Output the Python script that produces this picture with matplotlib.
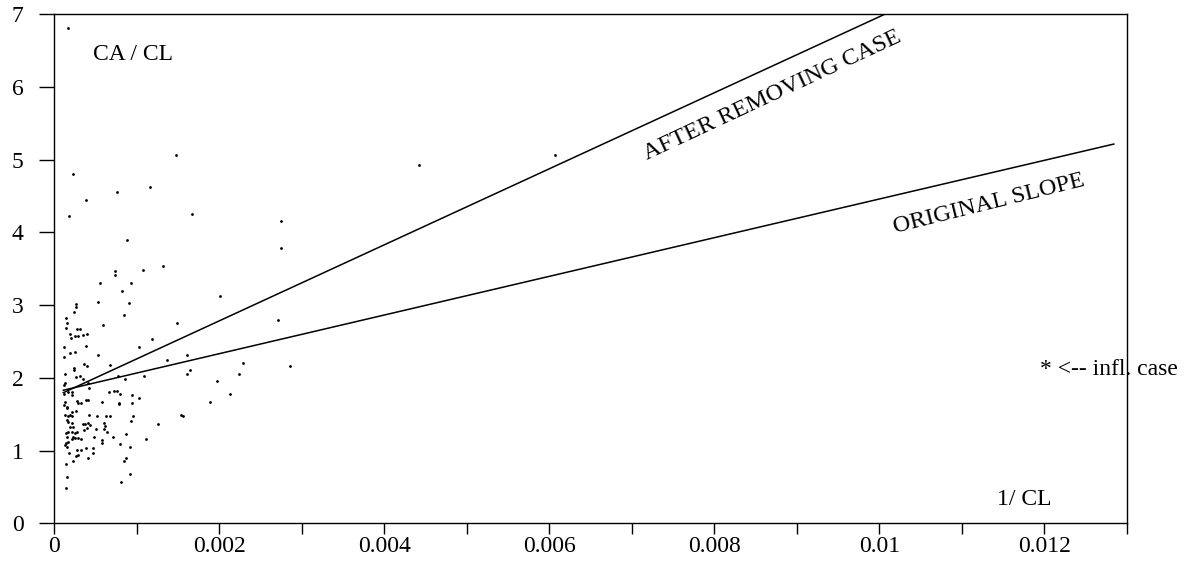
import matplotlib
matplotlib.use("Agg")
import matplotlib.pyplot as plt
import numpy as np

plt.rcParams['font.family'] = ['Liberation Serif', 'DejaVu Serif']

# scatter points: 1/CL vs CA/CL
inv_cl = [
    0.000173, 0.000236, 0.000766, 0.001164, 0.001481, 0.000385, 0.000182, 0.001676,
    0.002752, 0.002755, 0.000885, 0.000739, 0.000739, 0.001079, 0.001321, 0.004420,
    0.006073, 0.000561, 0.000933, 0.000821, 0.000913, 0.000533, 0.002012, 0.000852,
    0.000594, 0.001487, 0.002719, 0.001192, 0.001026, 0.000530, 0.000679, 0.001366,
    0.001612, 0.001648, 0.001616, 0.002291, 0.002239, 0.002861, 0.001979, 0.001091,
    0.000779, 0.000861, 0.000125, 0.000125, 0.000142, 0.000154, 0.000145, 0.000270,
    0.000263, 0.000242, 0.000194, 0.000202, 0.000282, 0.000315, 0.000255, 0.000295,
    0.000348, 0.000396, 0.000392, 0.000194, 0.000255, 0.000364, 0.000404, 0.000133,
    0.000242, 0.000242, 0.000267, 0.000319, 0.000348, 0.000416, 0.000428, 0.000133,
    0.000125, 0.000121, 0.000173, 0.000215, 0.000218, 0.000670, 0.000731, 0.000760,
    0.000800, 0.000949, 0.001030, 0.002130, 0.001891, 0.001536, 0.001567, 0.001264,
    0.001112, 0.000812, 0.000925, 0.000845, 0.000876, 0.000921, 0.000800, 0.000869,
    0.000961, 0.000930, 0.000945, 0.000784, 0.000788, 0.000582, 0.000719, 0.000646,
    0.000627, 0.000679, 0.000606, 0.000622, 0.000606, 0.000518, 0.000578, 0.000578,
    0.000481, 0.000509, 0.000476, 0.000469, 0.000412, 0.000384, 0.000424, 0.000408,
    0.000436, 0.000396, 0.000348, 0.000388, 0.000412, 0.000327, 0.000275, 0.000291,
    0.000263, 0.000222, 0.000215, 0.000161, 0.000154, 0.000125, 0.000133, 0.000194,
    0.000173, 0.000133, 0.000154, 0.000173, 0.000194, 0.000234, 0.000215, 0.000145,
    0.000173, 0.000154, 0.000215, 0.000255, 0.000275, 0.000234, 0.000145, 0.000133,
    0.000154, 0.000173, 0.000215, 0.000255, 0.000295, 0.000275, 0.000324, 0.000324,
    0.000185, 0.000234, 0.000267, 0.000295, 0.000142, 0.000154, 0.000145, 0.000379,
    0.000364,
]
ca_cl = [
    6.81, 4.81, 4.56, 4.62, 5.07, 4.45, 4.22, 4.26,
    4.16, 3.78, 3.89, 3.47, 3.41, 3.49, 3.54, 4.93,
    5.06, 3.31, 3.31, 3.19, 3.03, 3.05, 3.13, 2.87,
    2.73, 2.76, 2.79, 2.54, 2.42, 2.32, 2.18, 2.25,
    2.31, 2.11, 2.06, 2.21, 2.06, 2.17, 1.96, 2.03,
    2.03, 1.98, 2.43, 2.29, 2.82, 2.75, 2.68, 3.02,
    2.97, 2.90, 2.61, 2.55, 2.67, 2.67, 2.57, 2.58,
    2.59, 2.61, 2.44, 2.34, 2.36, 2.19, 2.17, 2.05,
    2.14, 2.11, 2.01, 2.02, 1.99, 1.93, 1.86, 1.93,
    1.90, 1.78, 1.80, 1.81, 1.76, 1.80, 1.82, 1.82,
    1.78, 1.77, 1.73, 1.78, 1.67, 1.49, 1.47, 1.36,
    1.16, 0.57, 0.68, 0.86, 0.90, 1.05, 1.09, 1.23,
    1.47, 1.41, 1.66, 1.66, 1.64, 1.67, 1.18, 1.25,
    1.48, 1.47, 1.38, 1.34, 1.30, 1.48, 1.14, 1.10,
    1.19, 1.30, 0.97, 1.04, 0.90, 1.03, 1.49, 1.38,
    1.35, 1.31, 1.36, 1.70, 1.70, 1.66, 1.68, 1.66,
    1.54, 1.53, 1.47, 1.60, 1.58, 1.63, 1.67, 1.49,
    1.47, 1.49, 1.42, 1.40, 1.33, 1.33, 1.38, 1.24,
    1.26, 1.19, 1.25, 1.24, 1.25, 1.19, 1.10, 1.08,
    1.05, 1.12, 1.16, 1.17, 1.17, 1.01, 1.16, 1.01,
    0.96, 0.85, 0.92, 0.94, 0.81, 0.64, 0.48, 1.36,
    1.28,
]

# fitted lines (intercept, slope) and x extent
orig_fit = (1.80, 266.0)
after_fit = (1.737, 523.0)
fit_x = [0.000113, 0.01284]

x_major = [0, 0.002, 0.004, 0.006, 0.008, 0.01, 0.012]
x_labels = ['0', '0.002', '0.004', '0.006', '0.008', '0.01', '0.012']
x_minor = [0.001, 0.003, 0.005, 0.007, 0.009, 0.011, 0.013]
y_ticks = [0, 1, 2, 3, 4, 5, 6, 7]

fig = plt.figure(figsize=(11.95, 5.61), dpi=100)
ax = fig.add_axes([0.0452, 0.0672, 0.8979, 0.9073])

ax.plot(inv_cl, ca_cl, 'o', color='black', ms=2.0, mec='none')

fx = np.array(fit_x)
ax.plot(fx, orig_fit[0] + orig_fit[1] * fx, color='black', lw=1.1)
ax.plot(fx, after_fit[0] + after_fit[1] * fx, color='black', lw=1.1)

ax.set_xlim(0, 0.013)
ax.set_ylim(0, 7)

ax.set_xticks(x_major)
ax.set_xticklabels(x_labels)
ax.set_xticks(x_minor, minor=True)
ax.set_yticks(y_ticks)

ax.tick_params(axis='y', direction='out', length=11, width=1, pad=11, labelsize=17)
ax.tick_params(axis='x', which='both', direction='out', length=8, width=1, pad=1, labelsize=17)

for s in ax.spines.values():
    s.set_linewidth(1.0)

ax.text(0.00047, 6.37, 'CA / CL', fontsize=17)
ax.text(0.01143, 0.25, '1/ CL', fontsize=17)
ax.text(0.01194, 2.04, '* <-- infl. case', fontsize=17, clip_on=False, zorder=0)
ax.text(0.00719, 5.00, 'AFTER REMOVING CASE', fontsize=17.5, rotation=25,
        rotation_mode='anchor', ha='left', va='baseline')
ax.text(0.01019, 3.99, 'ORIGINAL SLOPE', fontsize=17.5, rotation=14,
        rotation_mode='anchor', ha='left', va='baseline')

fig.savefig('out.png', dpi=100)
